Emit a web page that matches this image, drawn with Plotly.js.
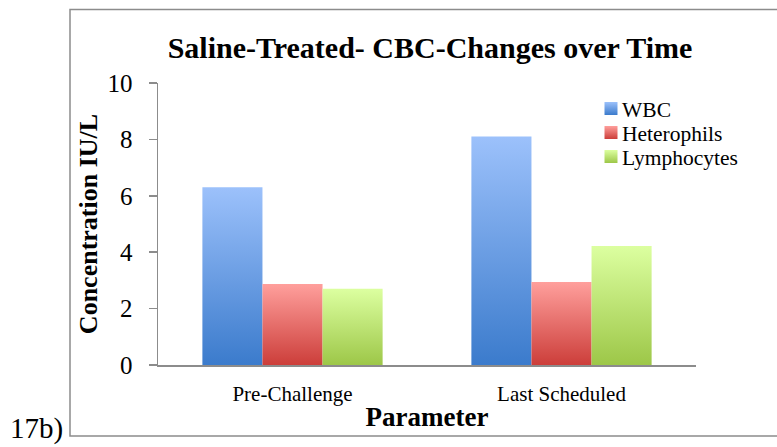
<!DOCTYPE html>
<html>
<head>
<meta charset="utf-8">
<script src="https://cdn.plot.ly/plotly-3.0.1.min.js"></script>
<style>html,body{margin:0;padding:0;background:#fff;}#chart{width:777px;height:447px;}</style>
</head>
<body>
<div id="chart"></div>
<script>
const categories = ["Pre-Challenge", "Last Scheduled"];
const wbc = [6.3, 8.1];
const heterophils = [2.87, 2.94];
const lymphocytes = [2.7, 4.22];
const seriesNames = ["WBC", "Heterophils", "Lymphocytes"];
const yTicks = [0, 2, 4, 6, 8, 10];

const FONT = "Liberation Serif";
const baseColors = ["#6a9ae2", "#e8716e", "#c0e07a"];
const gradStops = [
  ["#9cc1fb", "#3b7bcc"],
  ["#ff9f9c", "#cc3e3a"],
  ["#dcffa0", "#9dc748"]
];
const seriesVals = [wbc, heterophils, lymphocytes];

const traces = seriesVals.map((v, i) => ({
  type: "bar",
  name: seriesNames[i],
  x: categories,
  y: v,
  marker: { color: baseColors[i], line: { width: 0 } },
  hoverinfo: "x+y+name"
}));

const L = 158, R = 696, T = 83, B = 365;
const pw = R - L, ph = B - T;
const px = (x) => (x - L) / pw;
const py = (y) => (B - y) / ph;

const layout = {
  width: 777, height: 447,
  margin: { l: L, r: 777 - R, t: T, b: 447 - B },
  paper_bgcolor: "#ffffff",
  plot_bgcolor: "#ffffff",
  font: { family: FONT, color: "#000" },
  barmode: "group",
  bargap: 0.33,
  bargroupgap: 0,
  title: {
    text: "<b>Saline-Treated- CBC-Changes over Time</b>",
    font: { family: FONT, size: 30, color: "#000" },
    x: 430 / 777, xanchor: "center",
    y: 1 - 47 / 447, yanchor: "middle"
  },
  xaxis: {
    type: "category",
    showline: true, linecolor: "#8c8c8c", linewidth: 1.5,
    ticks: "", showgrid: false, zeroline: false,
    tickfont: { family: FONT, size: 21, color: "#000" },
    ticklabelstandoff: 9,
    title: { text: "<b>Parameter</b>", font: { family: FONT, size: 27, color: "#000" }, standoff: 2 }
  },
  yaxis: {
    range: [0, 10],
    tickvals: yTicks,
    ticktext: yTicks.map(String),
    showline: true, linecolor: "#8c8c8c", linewidth: 1.5,
    ticks: "outside", ticklen: 8, tickcolor: "#8c8c8c", tickwidth: 1.5,
    showgrid: false, zeroline: false,
    tickfont: { family: FONT, size: 25, color: "#000" },
    ticklabelstandoff: 11,
    title: { text: "<b>Concentration IU/L</b>", font: { family: FONT, size: 26, color: "#000" }, standoff: 2 }
  },
  legend: {
    x: px(582), xanchor: "left",
    y: py(88), yanchor: "top",
    bgcolor: "rgba(0,0,0,0)",
    font: { family: FONT, size: 21.5, color: "#000" },
    tracegroupgap: 0,
    itemwidth: 30
  },
  showlegend: true,
  shapes: [{
    type: "rect", xref: "paper", yref: "paper",
    x0: px(70), x1: px(830), y0: py(436), y1: py(9.5),
    line: { color: "#8c8c8c", width: 1.5 }, fillcolor: "rgba(0,0,0,0)", layer: "below"
  }],
  annotations: [{
    text: "17b)", xref: "paper", yref: "paper",
    x: px(8), xanchor: "left", y: py(447), yanchor: "bottom",
    showarrow: false, font: { family: FONT, size: 29, color: "#000" }
  }]
};

function applyGradients() {
  const svg = document.querySelector("#chart .main-svg");
  if (!svg) return;
  let defs = svg.querySelector("defs");
  if (!defs) { defs = document.createElementNS("http://www.w3.org/2000/svg", "defs"); svg.insertBefore(defs, svg.firstChild); }
  gradStops.forEach((s, i) => {
    const id = "barGrad" + i;
    if (document.getElementById(id)) return;
    const g = document.createElementNS("http://www.w3.org/2000/svg", "linearGradient");
    g.setAttribute("id", id);
    g.setAttribute("x1", "0"); g.setAttribute("y1", "0");
    g.setAttribute("x2", "0"); g.setAttribute("y2", "1");
    [[0, s[0]], [1, s[1]]].forEach(([o, c]) => {
      const st = document.createElementNS("http://www.w3.org/2000/svg", "stop");
      st.setAttribute("offset", o);
      st.setAttribute("stop-color", c);
      g.appendChild(st);
    });
    defs.appendChild(g);
  });
  document.querySelectorAll("#chart .barlayer .trace").forEach((tr, i) => {
    tr.querySelectorAll("path").forEach(p => { p.style.fill = "url(#barGrad" + (i % 3) + ")"; });
  });
  const items = document.querySelectorAll("#chart .legend .traces");
  let y0 = null;
  items.forEach((tr, i) => {
    const m = /translate\(\s*([-\d.]+)[ ,]+([-\d.]+)/.exec(tr.getAttribute("transform") || "");
    if (m) {
      const x = parseFloat(m[1]);
      if (y0 === null) y0 = parseFloat(m[2]);
      tr.setAttribute("transform", "translate(" + x + "," + (y0 + 24 * i) + ")");
    }
    tr.querySelectorAll(".legendpoints path").forEach(p => {
      p.style.fill = "url(#barGrad" + (i % 3) + ")";
      p.setAttribute("d", "M6.5,6.5H-6.5V-6.5H6.5Z");
      p.setAttribute("transform", "translate(29,0)");
      p.style.strokeWidth = "0";
    });
  });
}

Plotly.newPlot("chart", traces, layout, { displayModeBar: false, staticPlot: true }).then(applyGradients);
</script>
</body>
</html>
